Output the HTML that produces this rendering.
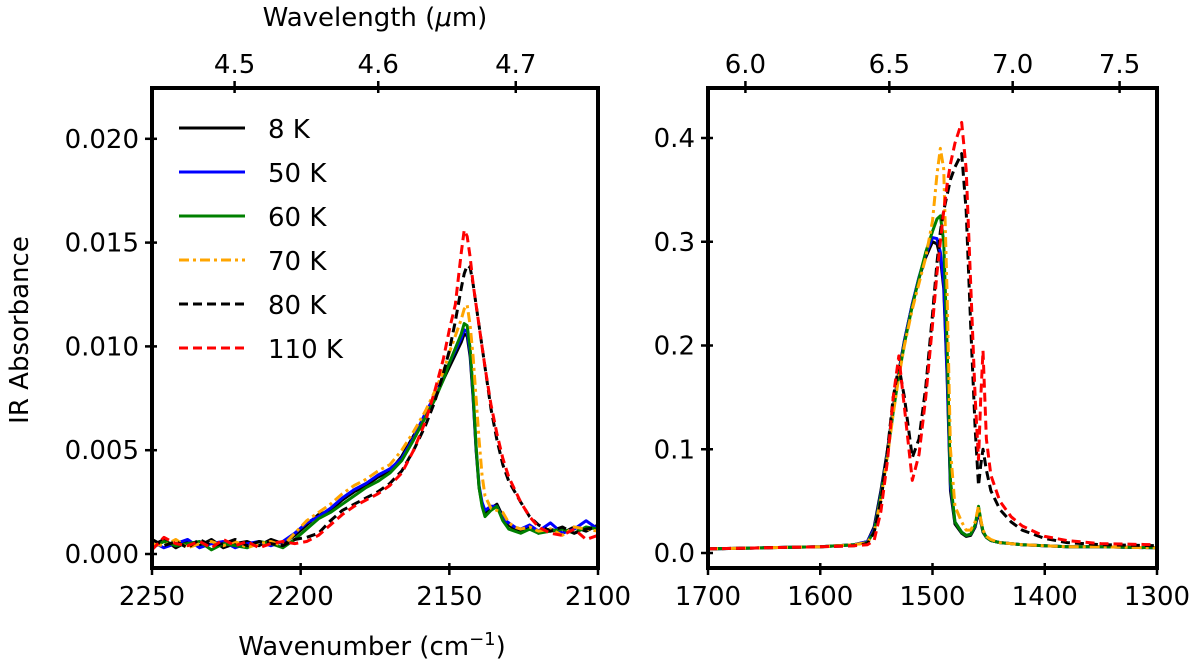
<!DOCTYPE html>
<html><head><meta charset="utf-8">
<style>
html,body{margin:0;padding:0;background:#fff;}
svg{display:block;font-family:"DejaVu Sans","Liberation Sans",sans-serif;}
</style></head>
<body>
<svg id="chart" width="1200" height="668" viewBox="0 0 1200 668" xmlns="http://www.w3.org/2000/svg"></svg>
<script>
// ---------- Left panel data (absorbance in units of 1e-3) ----------
const leftWavenumbers = [2250,2246,2242,2238,2234,2230,2226,2222,2218,2214,2210,2206,2202,2198,2194,2190,2186,2182,2178,2174,2170,2166,2162,2158,2155,2152,2150,2148,2146,2145,2144,2143,2142,2141,2140,2139,2138,2136,2134,2132,2130,2128,2126,2123,2120,2116,2112,2108,2104,2100];
const left8K   = [0.4,0.7,0.3,0.6,0.4,0.7,0.3,0.5,0.6,0.4,0.7,0.5,0.9,1.4,1.9,2.1,2.6,3.0,3.3,3.7,4.0,4.7,5.7,6.7,7.5,8.4,9.0,9.6,10.2,10.6,10.5,9.5,7.5,5.0,3.2,2.4,2.0,2.2,2.4,1.8,1.4,1.2,1.1,1.3,1.0,1.2,1.0,1.3,1.1,1.4];
const left50K  = [0.6,0.3,0.5,0.7,0.3,0.5,0.6,0.3,0.5,0.6,0.4,0.6,1.0,1.5,1.8,2.2,2.7,3.1,3.4,3.8,4.1,4.6,5.6,6.8,7.6,8.5,9.2,9.8,10.4,10.8,10.7,9.7,7.6,5.1,3.3,2.5,2.1,2.3,2.3,1.7,1.5,1.3,1.2,1.4,1.1,1.5,1.0,1.2,1.6,1.2];
const left60K  = [0.3,0.6,0.4,0.5,0.6,0.2,0.5,0.4,0.3,0.6,0.5,0.3,0.7,1.2,1.7,2.0,2.4,2.8,3.2,3.5,3.9,4.5,5.5,6.6,7.4,8.4,9.2,9.9,10.6,11.1,11.0,9.9,7.8,5.2,3.2,2.3,1.8,2.1,2.3,1.6,1.2,1.1,1.0,1.2,1.0,1.1,1.2,1.0,1.3,1.2];
const left70K  = [0.5,0.4,0.7,0.3,0.5,0.6,0.4,0.6,0.3,0.5,0.6,0.4,1.0,1.6,2.0,2.4,2.9,3.3,3.6,4.0,4.3,5.0,5.9,6.9,7.8,8.8,9.7,10.5,11.3,11.8,12.0,11.0,9.5,7.5,5.5,3.8,2.8,2.2,2.1,2.0,1.5,1.3,1.2,1.3,1.1,1.2,0.9,1.3,1.2,1.1];
const left80K  = [0.7,0.4,0.6,0.3,0.7,0.4,0.5,0.7,0.4,0.6,0.5,0.4,0.7,0.8,1.0,1.6,2.1,2.4,2.7,3.0,3.4,4.0,5.0,6.2,7.3,8.7,9.8,11.2,12.8,13.5,13.9,13.8,13.0,12.0,11.0,10.0,9.0,7.0,5.5,4.3,3.5,3.0,2.5,1.8,1.4,1.1,1.3,1.0,1.2,1.3];
const left110K = [0.2,0.8,0.5,0.4,0.6,0.3,0.7,0.4,0.6,0.3,0.5,0.6,0.5,0.6,0.9,1.4,1.9,2.3,2.6,2.9,3.3,3.9,5.0,6.4,7.8,9.4,10.8,12.0,14.5,15.6,15.3,14.3,13.0,12.0,11.0,10.0,9.0,7.2,5.8,4.6,3.7,3.1,2.5,1.8,1.3,1.0,0.9,1.2,0.7,0.9];
const leftYTicks = [0,5,10,15,20];
const leftYTickLabels = ["0.000","0.005","0.010","0.015","0.020"];
const leftXTicks = [2250,2200,2150,2100];
const leftTopTicks = [4.5,4.6,4.7];

// ---------- Right panel data ----------
const rightWavenumbers = [1700,1650,1600,1570,1558,1552,1546,1540,1535,1530,1525,1518,1512,1506,1500,1496,1493,1490,1487,1484,1480,1474,1470,1466,1462,1459,1457,1455,1452,1448,1440,1430,1420,1400,1380,1350,1300];
const right8K   = [0.004,0.005,0.006,0.008,0.011,0.025,0.06,0.10,0.14,0.175,0.205,0.24,0.265,0.285,0.300,0.298,0.285,0.255,0.17,0.06,0.028,0.019,0.016,0.017,0.025,0.040,0.030,0.020,0.015,0.012,0.010,0.009,0.008,0.007,0.006,0.006,0.005];
const right50K  = [0.004,0.005,0.006,0.008,0.011,0.023,0.057,0.098,0.138,0.173,0.204,0.24,0.266,0.288,0.304,0.303,0.290,0.260,0.175,0.065,0.030,0.020,0.017,0.018,0.026,0.042,0.031,0.021,0.015,0.012,0.010,0.009,0.008,0.007,0.006,0.006,0.005];
const right60K  = [0.004,0.005,0.006,0.008,0.010,0.021,0.055,0.096,0.136,0.171,0.202,0.238,0.265,0.290,0.310,0.322,0.325,0.300,0.200,0.070,0.030,0.020,0.017,0.018,0.027,0.045,0.032,0.021,0.015,0.012,0.010,0.009,0.008,0.007,0.006,0.006,0.005];
const right70K  = [0.004,0.005,0.006,0.008,0.010,0.020,0.052,0.094,0.134,0.170,0.200,0.235,0.260,0.285,0.320,0.365,0.390,0.370,0.250,0.100,0.045,0.030,0.022,0.022,0.030,0.045,0.032,0.022,0.016,0.013,0.010,0.009,0.008,0.007,0.006,0.006,0.005];
const right80K  = [0.004,0.005,0.006,0.007,0.009,0.020,0.050,0.100,0.150,0.180,0.150,0.092,0.110,0.160,0.230,0.280,0.310,0.330,0.345,0.360,0.372,0.385,0.330,0.220,0.120,0.065,0.085,0.100,0.080,0.060,0.042,0.030,0.022,0.014,0.010,0.008,0.007];
const right110K = [0.004,0.005,0.006,0.007,0.008,0.012,0.040,0.090,0.150,0.190,0.140,0.070,0.095,0.150,0.220,0.270,0.300,0.330,0.355,0.375,0.395,0.415,0.370,0.260,0.150,0.090,0.150,0.195,0.110,0.075,0.050,0.035,0.026,0.016,0.012,0.009,0.008];
const rightYTicks = [0,0.1,0.2,0.3,0.4];
const rightYTickLabels = ["0.0","0.1","0.2","0.3","0.4"];
const rightXTicks = [1700,1600,1500,1400,1300];
const rightTopTicks = [6.0,6.5,7.0,7.5];

const seriesNames = ["8 K","50 K","60 K","70 K","80 K","110 K"];
const seriesColors = ["#000000","#0000ff","#008000","#ffa500","#000000","#ff0000"];
const seriesDash = ["","","","10,4,3,4","9,5","9,5"];

const NS = "http://www.w3.org/2000/svg";
const svg = document.getElementById("chart");
function mk(tag, attrs, parent){
  const e = document.createElementNS(NS, tag);
  for (const k in attrs) e.setAttribute(k, attrs[k]);
  (parent||svg).appendChild(e);
  return e;
}

function drawPanel(p){
  const g = mk("g", {});
  
  
  const xs = w => p.x0 + (p.wMax - w) / (p.wMax - p.wMin) * (p.x1 - p.x0);
  const ys = v => p.y0 - (v - p.vMin) / (p.vMax - p.vMin) * (p.y0 - p.y1);
  const clipId = p.name + "-clip";
  const defs = mk("defs", {}, g);
  const cp = mk("clipPath", {id: clipId}, defs);
  mk("rect", {x:p.x0, y:p.yTop, width:p.x1-p.x0, height:p.yBot-p.yTop}, cp);
  const plot = mk("g", {"clip-path":"url(#"+clipId+")"}, g);
  p.series.forEach((vals, i) => {
    let d = "";
    vals.forEach((v, j) => { d += (j ? "L" : "M") + xs(p.wn[j]).toFixed(2) + "," + ys(v * p.scale).toFixed(2); });
    const path = mk("path", {d:d, fill:"none", stroke:seriesColors[i], "stroke-width":3, "stroke-linejoin":"round"}, plot);
    if (seriesDash[i]) path.setAttribute("stroke-dasharray", seriesDash[i]);
    
    
  });
  const fr = mk("rect", {x:p.x0, y:p.yTop, width:p.x1-p.x0, height:p.yBot-p.yTop, fill:"none", stroke:"#000", "stroke-width":4}, g);
  
  
  p.xTicks.forEach(t => {
    const x = xs(t);
    mk("line", {x1:x, x2:x, y1:p.yBot-5, y2:p.yBot+7, stroke:"#000", "stroke-width":2.5}, g);
    const tx = mk("text", {x:x, y:p.yBot+37, "text-anchor":"middle", "font-size":26}, g);
    tx.textContent = t;
    
    
  });
  p.topTicks.forEach(t => {
    const x = xs(1e4 / t);
    mk("line", {x1:x, x2:x, y1:p.yTop-7, y2:p.yTop+5, stroke:"#000", "stroke-width":2.5}, g);
    const tx = mk("text", {x:x, y:p.yTop-15, "text-anchor":"middle", "font-size":26}, g);
    tx.textContent = t.toFixed(1);
    
    
  });
  p.yTicks.forEach((t, i) => {
    const y = ys(t);
    mk("line", {x1:p.x0-7, x2:p.x0+5, y1:y, y2:y, stroke:"#000", "stroke-width":2.5}, g);
    const tx = mk("text", {x:p.x0-13, y:y+9, "text-anchor":"end", "font-size":26}, g);
    tx.textContent = p.yLabels[i];
    
    
  });
}

drawPanel({name:"left-panel", x0:152, x1:598, yTop:88, yBot:568, wMax:2250, wMin:2100,
  y0:554, y1:138.8, vMin:0, vMax:20, scale:1,
  wn:leftWavenumbers, series:[left8K,left50K,left60K,left70K,left80K,left110K],
  xTicks:leftXTicks, topTicks:leftTopTicks, yTicks:leftYTicks, yLabels:leftYTickLabels});
drawPanel({name:"right-panel", x0:708, x1:1157, yTop:88, yBot:568, wMax:1700, wMin:1300,
  y0:553, y1:138, vMin:0, vMax:0.4, scale:1,
  wn:rightWavenumbers, series:[right8K,right50K,right60K,right70K,right80K,right110K],
  xTicks:rightXTicks, topTicks:rightTopTicks, yTicks:rightYTicks, yLabels:rightYTickLabels});

const leg = mk("g", {});


seriesNames.forEach((n, i) => {
  const y = 128 + i * 44;
  const ln = mk("line", {x1:179, x2:245, y1:y, y2:y, stroke:seriesColors[i], "stroke-width":3}, leg);
  if (seriesDash[i]) ln.setAttribute("stroke-dasharray", seriesDash[i]);
  const tx = mk("text", {x:268, y:y+10, "font-size":26}, leg);
  tx.textContent = n;
  
  
});

const yt = mk("text", {x:0, y:0, "text-anchor":"middle", "font-size":26, transform:"translate(28,330) rotate(-90)"});
yt.textContent = "IR Absorbance";


const xt = mk("text", {x:372, y:655, "text-anchor":"middle", "font-size":26});
xt.innerHTML = 'Wavenumber (cm<tspan dy="-10" font-size="18">−1</tspan><tspan dy="10">)</tspan>';


const tt = mk("text", {x:375, y:26, "text-anchor":"middle", "font-size":26});
tt.innerHTML = 'Wavelength (<tspan font-style="italic">μ</tspan>m)';


</script>
</body></html>
